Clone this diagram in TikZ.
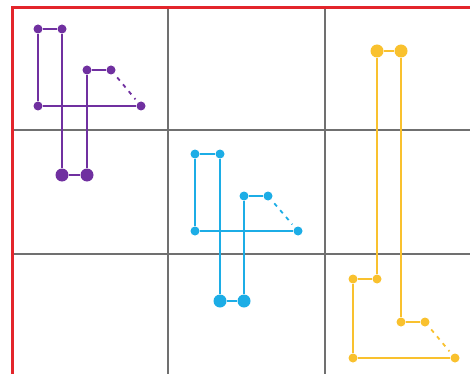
\documentclass[tikz,border=0pt]{standalone}
\usepackage{tikz}
\usetikzlibrary{positioning}
\definecolor{framered}{HTML}{E3252B}
\definecolor{gridgray}{HTML}{707070}
\definecolor{lpurple}{HTML}{7030A0}
\definecolor{lblue}{HTML}{1CADE6}
\definecolor{lyellow}{HTML}{F9C12E}

\begin{document}
\begin{tikzpicture}[x=1pt, y=-1pt,
    dot/.style={circle, fill=#1, inner sep=0pt, minimum size=9pt},
    bigdot/.style={dot=#1, minimum size=13pt},
    link/.style={line width=2.3pt},
    gap/.style={line width=1.8pt, dash pattern=on 4pt off 5pt, shorten <=5pt, shorten >=4pt}]
    \useasboundingbox (0,0) rectangle (470,374);

    % grid and frame
    \draw [gridgray, line width=1.4pt] (168,8) -- (168,374) (325,8) -- (325,374);
    \draw [gridgray, line width=1.4pt] (12,130) -- (470,130) (12,254) -- (470,254);
    \draw [framered, line width=3pt] (12,374) -- (12,8) -- (470,8);

    % purple
    \node (p1) [dot=lpurple] at (38,106) {};
    \node (p2) [dot=lpurple] at (38,29) {};
    \node (p3) [dot=lpurple] at (62,29) {};
    \node (p4) [bigdot=lpurple] at (62,175) {};
    \node (p5) [bigdot=lpurple] at (87,175) {};
    \node (p6) [dot=lpurple] at (87,70) {};
    \node (p7) [dot=lpurple] at (111,70) {};
    \node (p8) [dot=lpurple] at (141,106) {};
    \draw [link, lpurple] (p1) -- (p2) -- (p3) -- (p4) -- (p5) -- (p6) -- (p7);
    \draw [link, lpurple] (p1) -- (p8);
    \draw [gap, lpurple] (p7) -- (p8);

    % blue
    \node (b1) [dot=lblue] at (195,231) {};
    \node (b2) [dot=lblue] at (195,154) {};
    \node (b3) [dot=lblue] at (220,154) {};
    \node (b4) [bigdot=lblue] at (220,301) {};
    \node (b5) [bigdot=lblue] at (244,301) {};
    \node (b6) [dot=lblue] at (244,196) {};
    \node (b7) [dot=lblue] at (268,196) {};
    \node (b8) [dot=lblue] at (298,231) {};
    \draw [link, lblue] (b1) -- (b2) -- (b3) -- (b4) -- (b5) -- (b6) -- (b7);
    \draw [link, lblue] (b1) -- (b8);
    \draw [gap, lblue] (b7) -- (b8);

    % yellow
    \node (y1) [dot=lyellow] at (353,358) {};
    \node (y2) [dot=lyellow] at (353,279) {};
    \node (y3) [dot=lyellow] at (377,279) {};
    \node (y4) [bigdot=lyellow] at (377,51) {};
    \node (y5) [bigdot=lyellow] at (401,51) {};
    \node (y6) [dot=lyellow] at (401,322) {};
    \node (y7) [dot=lyellow] at (425,322) {};
    \node (y8) [dot=lyellow] at (455,358) {};
    \draw [link, lyellow] (y1) -- (y2) -- (y3) -- (y4) -- (y5) -- (y6) -- (y7);
    \draw [link, lyellow] (y1) -- (y8);
    \draw [gap, lyellow] (y7) -- (y8);
\end{tikzpicture}
\end{document}
